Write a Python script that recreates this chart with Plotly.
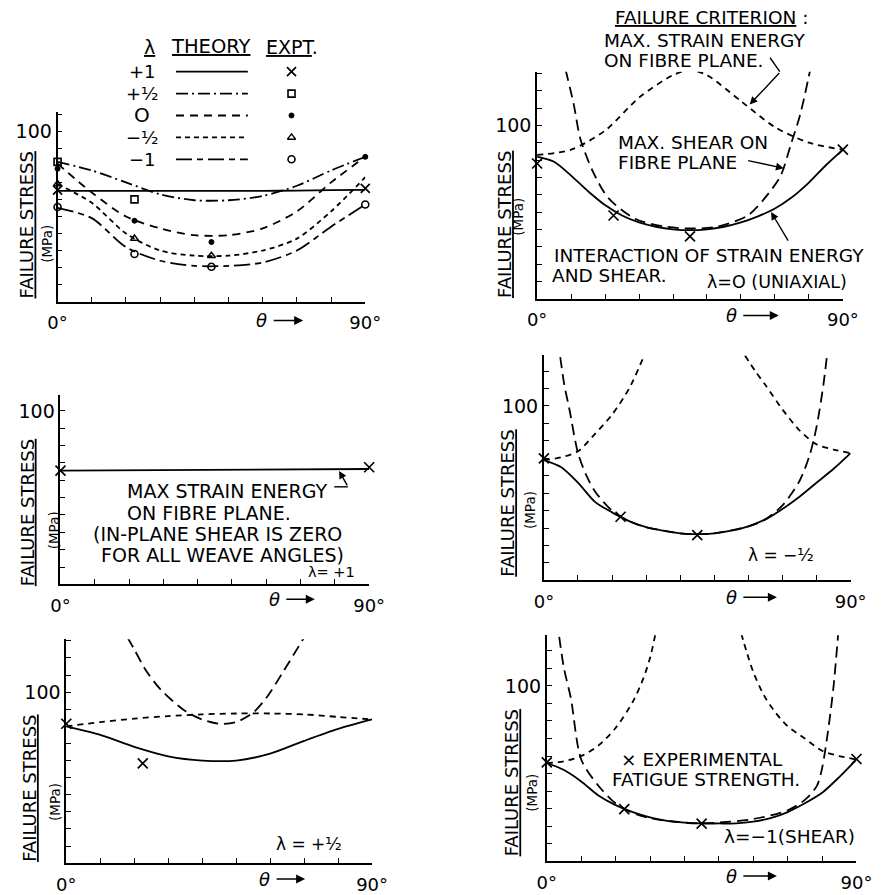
import plotly.graph_objects as go

W, H = 888, 895

# ======================= DATA =======================
# Panel 1 : theory curves (failure stress, MPa) vs weave angle theta (deg)
p1_theta = [0, 10, 20, 30, 40, 50, 60, 70, 80, 90]
p1_theory_plus1 = [65, 65, 65, 65, 65, 65, 65, 65.2, 65.4, 65.6]
p1_theory_plus_half = [82, 77, 70, 63, 59.5, 59.5, 62, 68, 77, 85]
p1_theory_zero = [81, 64, 50, 43, 39, 39, 43, 53, 70, 85]
p1_theory_minus_half = [69, 58, 40, 30, 27, 27, 30, 37, 53, 73]
p1_theory_minus1 = [55, 49, 32, 24, 21, 21, 23, 30, 44, 57]
# Panel 1 : experiments
p1_expt_plus1_theta = [0, 90]
p1_expt_plus1 = [65.5, 66.5]
p1_expt_plus_half_theta = [0, 22.5]
p1_expt_plus_half = [82, 60]
p1_expt_zero_theta = [0, 22.5, 45, 90]
p1_expt_zero = [78, 47.5, 35, 85]
p1_expt_minus_half_theta = [0, 22.5, 45]
p1_expt_minus_half = [69, 37, 27]
p1_expt_minus1_theta = [0, 22.5, 45, 90]
p1_expt_minus1 = [55.5, 28, 20.5, 57]

# Panel 2 : lambda = 0 (uniaxial)
p2_inter_theta = [0, 5, 10, 15, 20, 25, 30, 35, 40, 45, 50, 55, 60, 65, 70, 75, 80, 85, 90]
p2_interaction = [82, 79, 71, 62, 54, 48, 44, 41.5, 40, 39.5, 40, 41.5, 44, 47.5, 52, 58.5, 67, 77, 86]
p2_se_theta = [0, 10, 20, 30, 40, 45, 50, 60, 70, 80, 90]
p2_strain_energy = [83, 86, 97, 116, 129, 132, 129, 114, 99, 90, 86]
p2_sh_theta = [8.4, 10.8, 12.7, 16.5, 21, 29, 38, 45, 53, 62, 67, 71.7, 74.6, 77.4, 80.7]
p2_shear = [132, 112, 92.5, 73, 58, 46, 41.5, 40.5, 41.5, 48, 58, 71, 88.5, 106, 135]
p2_expt_theta = [0, 22.5, 45, 90]
p2_expt = [78, 48, 36, 86]

# Panel 3 : lambda = +1
p3_theta = [0, 90]
p3_strain_energy = [65.5, 66.5]
p3_expt_theta = [0, 90]
p3_expt = [65.5, 67.5]

# Panel 4 : lambda = -1/2
p4_inter_theta = [0, 5, 10, 15, 20, 25, 30, 35, 40, 45, 50, 55, 60, 65, 70, 75, 80, 85, 90]
p4_interaction = [69, 65, 56, 45, 39, 34, 30.5, 28.5, 27, 26.5, 27, 28.5, 31, 35, 41, 48, 56, 64, 73]
p4_se_left_theta = [0, 5, 10, 15, 20, 25, 29]
p4_se_left = [69, 70.5, 74, 84, 95, 110, 127]
p4_se_right_theta = [59, 62, 65, 70, 75, 80, 85, 90]
p4_se_right = [129, 120, 112, 98, 86, 78, 75, 73]
p4_sh_theta = [4.8, 6, 7.5, 10, 12.5, 15, 20, 25, 30, 40, 45, 50, 60, 65, 70, 75, 78, 80, 82, 83]
p4_shear = [128, 112, 98, 73, 60, 51, 40, 34, 30.5, 27, 26.5, 27, 31, 35, 43, 57, 72, 88, 112, 128]
p4_expt_theta = [0, 22.5, 45]
p4_expt = [70, 36.5, 26]

# Panel 5 : lambda = +1/2
p5_theta = [0, 10, 20, 30, 40, 50, 60, 70, 80, 90]
p5_interaction = [80, 75, 68, 62.5, 60, 60, 64, 71.5, 78.5, 84]
p5_strain_energy = [80, 82.5, 84.5, 86, 87, 87.5, 87.5, 87, 85.5, 84]
p5_sh_theta = [18, 20, 23.5, 28, 35, 40, 45, 50, 55, 59, 64, 70]
p5_shear = [132, 125, 112.5, 101, 89, 84, 81.5, 82.5, 88, 97, 112.5, 132]
p5_expt_theta = [0, 22.5]
p5_expt = [81.5, 58.3]

# Panel 6 : lambda = -1 (shear)
p6_inter_theta = [0, 5, 10, 15, 20, 25, 30, 35, 40, 45, 50, 55, 60, 65, 70, 75, 80, 85, 90]
p6_interaction = [56, 52, 45.5, 37.5, 32, 28, 25, 23, 22, 21.5, 21.5, 21.5, 22.5, 24.5, 28, 33, 39, 48, 58]
p6_se_left_theta = [0, 5, 10, 15, 20, 25, 28, 30, 31.5]
p6_se_left = [56, 57, 60, 66, 76, 91, 104, 116, 129]
p6_se_right_theta = [56.5, 58, 60, 63, 66, 70, 75, 80, 85, 90]
p6_se_right = [130, 120, 108, 95, 86, 77, 70, 63, 60, 58]
p6_sh_theta = [3.6, 5, 7, 10, 15, 20, 25, 30, 40, 45, 50, 60, 70, 75, 78.5, 80, 81.5, 83.3, 84.7]
p6_shear = [128, 110, 93, 58, 43, 33, 27.5, 24.5, 22, 21.5, 22, 24, 29, 35, 43, 53, 71, 99, 130]
p6_expt_theta = [0, 22.5, 45, 90]
p6_expt = [56.4, 29.7, 21.4, 58.3]

x_tick_vals = [0, 10, 20, 30, 40, 50, 60, 70, 80, 90]
x_tick_text = ["0°", "", "", "", "", "", "", "", "", "90°"]

# ======================= LAYOUT HELPERS =======================
FONT = "DejaVu Sans"


def fx(px):
    return px / W


def fy(py):
    return 1 - py / H


# panel geometry in screen pixels: (x_left, x_right, y_top, y_bottom, ymax)
panels = {
    1: (49, 366, 113, 303, 111),
    2: (543, 858, 72, 300, 131),
    3: (52, 370, 397, 587, 109),
    4: (550, 866, 357, 583, 129),
    5: (58, 373, 642, 867, 131),
    6: (553, 872, 638, 865, 129),
}

fig = go.Figure()
layout = dict(
    width=W, height=H,
    margin=dict(l=0, r=0, t=0, b=0),
    paper_bgcolor="white", plot_bgcolor="rgba(0,0,0,0)",
    showlegend=False,
    font=dict(family=FONT, color="black", size=15),
)

for i, (xl, xr, yt, yb, ymax) in panels.items():
    xs = "" if i == 1 else str(i)
    ytv = list(range(0, int(ymax) + 1, 10))
    layout["xaxis" + xs] = dict(
        domain=[fx(xl), fx(xr)], range=[0, 90], anchor="y" + xs,
        showline=True, linecolor="black", linewidth=1.8,
        ticks="inside", ticklen=5, tickwidth=1.3, tickcolor="black",
        tickvals=x_tick_vals, ticktext=x_tick_text, ticklabelstandoff=4,
        tickfont=dict(size=18, family=FONT), showgrid=False, zeroline=False,
        fixedrange=True,
    )
    layout["yaxis" + xs] = dict(
        domain=[fy(yb), fy(yt)], range=[0, ymax], anchor="x" + xs,
        showline=True, linecolor="black", linewidth=1.8,
        ticks="inside", ticklen=5, tickwidth=1.3, tickcolor="black",
        tickvals=ytv, ticktext=["100" if v == 100 else "" for v in ytv],
        tickfont=dict(size=19, family=FONT), showgrid=False, zeroline=False,
        fixedrange=True,
    )

# overlay axis in screen pixels for the legend of panel 1
layout["xaxis7"] = dict(domain=[0, 1], range=[0, W], visible=False, anchor="y7", fixedrange=True)
layout["yaxis7"] = dict(domain=[0, 1], range=[H, 0], visible=False, anchor="x7", fixedrange=True)


def ax_ids(i):
    return ("x", "y") if i == 1 else ("x%d" % i, "y%d" % i)


def line(i, x, y, dash="solid", width=1.8):
    xa, ya = ax_ids(i)
    fig.add_trace(go.Scatter(x=x, y=y, mode="lines", xaxis=xa, yaxis=ya,
                             line=dict(color="black", width=width, dash=dash, shape="spline", smoothing=0.8),
                             connectgaps=False, hoverinfo="skip"))


def marks(i, x, y, symbol, size=8, lw=1.4):
    xa, ya = ax_ids(i)
    fig.add_trace(go.Scatter(x=x, y=y, mode="markers", xaxis=xa, yaxis=ya, cliponaxis=False,
                             marker=dict(symbol=symbol, size=size, color="black",
                                         line=dict(color="black", width=lw)),
                             hoverinfo="skip"))


DASH_PLUS_HALF = "12px,4px,2px,4px"
DASH_ZERO = "8px,6px"
DASH_MINUS_HALF = "5px,4px"
DASH_MINUS1 = "16px,5px,6px,5px"
DASH_SE = "6px,5px"
DASH_SH = "11px,6px"

# ---- panel 1 ----
line(1, p1_theta, p1_theory_plus1, "solid")
line(1, p1_theta, p1_theory_plus_half, DASH_PLUS_HALF)
line(1, p1_theta, p1_theory_zero, DASH_ZERO)
line(1, p1_theta, p1_theory_minus_half, DASH_MINUS_HALF)
line(1, p1_theta, p1_theory_minus1, DASH_MINUS1)
marks(1, p1_expt_plus1_theta, p1_expt_plus1, "x-thin", 9, 1.7)
marks(1, p1_expt_plus_half_theta, p1_expt_plus_half, "square-open", 7, 1.6)
marks(1, p1_expt_zero_theta, p1_expt_zero, "circle", 5, 1)
marks(1, p1_expt_minus_half_theta, p1_expt_minus_half, "triangle-up-open", 7, 1.5)
marks(1, p1_expt_minus1_theta, p1_expt_minus1, "circle-open", 7, 1.6)

# ---- panel 2 ----
line(2, p2_inter_theta, p2_interaction, "solid")
line(2, p2_se_theta, p2_strain_energy, DASH_SE)
line(2, p2_sh_theta, p2_shear, DASH_SH)
marks(2, p2_expt_theta, p2_expt, "x-thin", 10, 1.7)

# ---- panel 3 ----
line(3, p3_theta, p3_strain_energy, "solid")
marks(3, p3_expt_theta, p3_expt, "x-thin", 10, 1.7)

# ---- panel 4 ----
line(4, p4_inter_theta, p4_interaction, "solid")
line(4, p4_se_left_theta + [None] + p4_se_right_theta, p4_se_left + [None] + p4_se_right, DASH_SE)
line(4, p4_sh_theta, p4_shear, DASH_SH)
marks(4, p4_expt_theta, p4_expt, "x-thin", 10, 1.7)

# ---- panel 5 ----
line(5, p5_theta, p5_interaction, "solid")
line(5, p5_theta, p5_strain_energy, DASH_SE)
line(5, p5_sh_theta, p5_shear, DASH_SH)
marks(5, p5_expt_theta, p5_expt, "x-thin", 10, 1.7)

# ---- panel 6 ----
line(6, p6_inter_theta, p6_interaction, "solid")
line(6, p6_se_left_theta + [None] + p6_se_right_theta, p6_se_left + [None] + p6_se_right, DASH_SE)
line(6, p6_sh_theta, p6_shear, DASH_SH)
marks(6, p6_expt_theta, p6_expt, "x-thin", 10, 1.7)

# ---- panel 1 legend (pixel overlay) ----
legend_rows = [
    ("+1", 72, "solid", "x-thin", 9, 1.7),
    ("+½", 94, DASH_PLUS_HALF, "square-open", 7, 1.6),
    ("O", 116, DASH_ZERO, "circle", 5, 1),
    ("−½", 138, DASH_MINUS_HALF, "triangle-up-open", 7, 1.5),
    ("−1", 160, DASH_MINUS1, "circle-open", 7, 1.6),
]
annotations = []
for lab, yy, dash, sym, sz, lw in legend_rows:
    fig.add_trace(go.Scatter(x=[171, 245], y=[yy, yy], mode="lines", xaxis="x7", yaxis="y7",
                             line=dict(color="black", width=1.8, dash=dash), hoverinfo="skip"))
    fig.add_trace(go.Scatter(x=[290], y=[yy], mode="markers", xaxis="x7", yaxis="y7",
                             marker=dict(symbol=sym, size=sz, color="black", line=dict(color="black", width=lw)),
                             hoverinfo="skip"))
    annotations.append(dict(x=fx(136), y=fy(yy), text=lab, xanchor="center", yanchor="middle",
                            font=dict(size=20 if lab == "O" else 18)))


def txt(x, y, text, size=16, anchor="left", angle=0):
    annotations.append(dict(x=fx(x), y=fy(y), text=text, xanchor=anchor, yanchor="middle",
                            textangle=angle, font=dict(size=size, family=FONT)))


txt(144, 47, "<u>λ</u>", 19, "center")
txt(207, 47, "<u>THEORY</u>", 19.5, "center")
txt(291, 47, "<u>EXPT</u>.", 19, "center")

# y-axis titles
ytitles = [
    (18, 226, 38, 245),
    (510, 226, 523, 218),
    (18, 515, 45, 533),
    (513, 505, 535, 512),
    (20, 792, 47, 806),
    (517, 786, 538, 796),
]
for (xa, ya, xb, yb) in ytitles:
    txt(xa, ya, "<u>FAILURE STRESS</u>", 18, "center", -90)
    txt(xb, yb, "(MPa)", 13.5, "center", -90)

# theta arrows under x axes: (theta x, y, arrow start, arrow end)
theta_labels = [
    (259, 322, 271, 302),
    (743, 317, 755, 792),
    (272, 602, 284, 314),
    (743, 600, 755, 790),
    (262, 883, 274, 304),
    (743, 880, 755, 790),
]
for tx, ty, a0, a1 in theta_labels:
    txt(tx, ty, "<i>θ</i>", 18, "center")
    annotations.append(dict(x=fx(a1), y=fy(ty), xref="paper", yref="paper", text="", showarrow=True,
                            ax=-(a1 - a0), ay=0, arrowhead=2, arrowsize=1.2, arrowwidth=1.5,
                            arrowcolor="black"))

# panel 2 annotations
TS = 18.5
txt(621, 18, "<u>FAILURE CRITERION</u> :", TS)
txt(610, 41, "MAX. STRAIN ENERGY", TS)
txt(610, 61, "ON FIBRE PLANE.", TS)
txt(624, 143, "MAX. SHEAR ON", TS)
txt(624, 163, "FIBRE PLANE", TS)
txt(558, 257, "INTERACTION OF STRAIN ENERGY", TS)
txt(556, 277, "AND SHEAR.", TS)
txt(716, 283, "λ=O (UNIAXIAL)", 17.5)

# panel 3 annotations
P3 = 19
txt(118, 493, "MAX STRAIN ENERGY", P3)
txt(118, 515, "ON FIBRE PLANE.", P3)
txt(83, 536, "(IN-PLANE SHEAR IS ZERO", P3)
txt(92, 557, "FOR ALL WEAVE ANGLES)", P3)
txt(305, 575, "λ= +1", 14.5)

# panel 4 / 5 / 6 annotations
txt(758, 557, "λ = −½", 17)
txt(272, 848, "λ = +½", 17)
txt(627, 763, "× EXPERIMENTAL", TS)
txt(618, 783, "FATIGUE STRENGTH.", TS)
txt(733, 840, "λ=−1(SHEAR)", TS)


def arrow(x0, y0, x1, y1):
    annotations.append(dict(x=fx(x1), y=fy(y1), xref="paper", yref="paper", text="", showarrow=True,
                            ax=x0 - x1, ay=y0 - y1, arrowhead=2, arrowsize=1.1, arrowwidth=1.4,
                            arrowcolor="black"))


arrow(793, 72, 762, 105)
arrow(760, 161, 797, 169)
arrow(802, 243, 784, 213)
arrow(348, 489, 339, 473)

shapes = [
    dict(type="line", xref="paper", yref="paper", x0=fx(783), y0=fy(58), x1=fx(793), y1=fy(72),
         line=dict(color="black", width=1.4)),
    dict(type="line", xref="paper", yref="paper", x0=fx(334), y0=fy(489), x1=fx(348), y1=fy(489),
         line=dict(color="black", width=1.4)),
]

for a in annotations:
    a.setdefault("xref", "paper")
    a.setdefault("yref", "paper")
    a.setdefault("showarrow", False)

layout["annotations"] = annotations
layout["shapes"] = shapes
fig.update_layout(**layout)
fig.write_html("out.html", config={"displayModeBar": False},
               post_script="document.body.style.margin='0px';document.body.style.overflow='hidden';")
